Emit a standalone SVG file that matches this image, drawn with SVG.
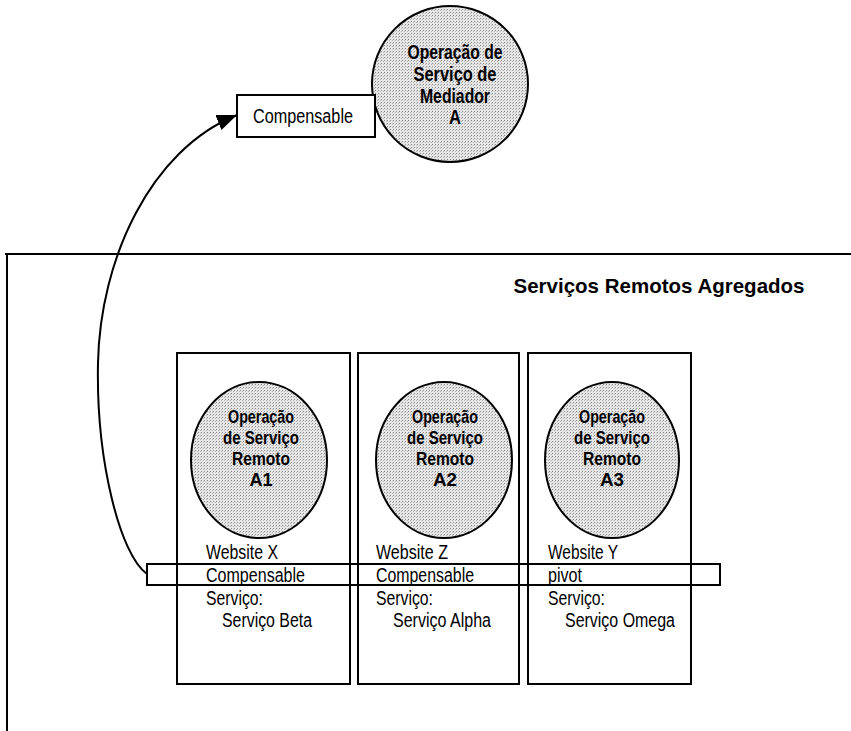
<svg xmlns="http://www.w3.org/2000/svg" width="851" height="731" viewBox="0 0 851 731">
<defs>
<pattern id="stip" width="3" height="3" patternUnits="userSpaceOnUse">
<rect width="3" height="3" fill="#e6e6e6"/>
<rect x="0" y="0" width="1" height="1" fill="#8a8a8a"/>
<rect x="2" y="1" width="1" height="1" fill="#b4b4b4"/>
</pattern>
<marker id="ah" markerUnits="userSpaceOnUse" markerWidth="22" markerHeight="18" refX="20" refY="8" orient="auto">
<path d="M0,0 L20,8 L0,16 Z" fill="#000"/>
</marker>
<style>
.ln{fill:none;stroke:#000;stroke-width:2}
.cir{fill:url(#stip);stroke:#000;stroke-width:2}
.bx{fill:#fff;stroke:#000;stroke-width:2}
.b{font-family:"Liberation Sans",Arial,sans-serif;font-weight:bold;font-size:21px;fill:#000;text-anchor:middle}
.s{font-size:18px}
.r{font-family:"Liberation Sans",Arial,sans-serif;font-size:20px;fill:#000}
</style>
</defs>
<rect width="851" height="731" fill="#fff"/>

<g id="container">
<path class="ln" d="M5,254 H851 M7,253 V731" stroke-width="2.5"/>
<text class="b" x="659" y="293" font-size="22" textLength="291" lengthAdjust="spacingAndGlyphs">Serviços Remotos Agregados</text>
</g>

<g id="mediator">
<circle class="cir" cx="450" cy="84" r="78"/>
<text class="b" x="455" y="59" textLength="95" lengthAdjust="spacingAndGlyphs">Operação de</text>
<text class="b" x="455" y="81" textLength="83" lengthAdjust="spacingAndGlyphs">Serviço de</text>
<text class="b" x="455" y="103" textLength="70" lengthAdjust="spacingAndGlyphs">Mediador</text>
<text class="b" x="455" y="124" textLength="12" lengthAdjust="spacingAndGlyphs">A</text>
</g>

<g id="compensable-top">
<rect class="bx" x="237" y="95" width="138" height="42"/>
<text class="r" x="253" y="123" textLength="100" lengthAdjust="spacingAndGlyphs">Compensable</text>
</g>

<g id="site-x">
<rect class="ln" x="177" y="353" width="173" height="331"/>
<ellipse class="cir" cx="259" cy="460" rx="68" ry="78"/>
<text class="b s" x="261" y="423" textLength="66" lengthAdjust="spacingAndGlyphs">Operação</text>
<text class="b s" x="261" y="444" textLength="76" lengthAdjust="spacingAndGlyphs">de Serviço</text>
<text class="b s" x="261" y="465" textLength="58" lengthAdjust="spacingAndGlyphs">Remoto</text>
<text class="b s" x="261" y="486" textLength="23" lengthAdjust="spacingAndGlyphs">A1</text>
<text class="r" x="206" y="559" textLength="72" lengthAdjust="spacingAndGlyphs">Website X</text>
<text class="r" x="206" y="582" textLength="99" lengthAdjust="spacingAndGlyphs">Compensable</text>
<text class="r" x="206" y="605" textLength="57" lengthAdjust="spacingAndGlyphs">Serviço:</text>
<text class="r" x="222" y="627" textLength="90" lengthAdjust="spacingAndGlyphs">Serviço Beta</text>
</g>

<g id="site-z">
<rect class="ln" x="358" y="353" width="161" height="331"/>
<ellipse class="cir" cx="444" cy="460" rx="68" ry="78"/>
<text class="b s" x="445" y="423" textLength="66" lengthAdjust="spacingAndGlyphs">Operação</text>
<text class="b s" x="445" y="444" textLength="76" lengthAdjust="spacingAndGlyphs">de Serviço</text>
<text class="b s" x="445" y="465" textLength="58" lengthAdjust="spacingAndGlyphs">Remoto</text>
<text class="b s" x="445" y="486" textLength="24" lengthAdjust="spacingAndGlyphs">A2</text>
<text class="r" x="376" y="559" textLength="72" lengthAdjust="spacingAndGlyphs">Website Z</text>
<text class="r" x="376" y="582" textLength="98" lengthAdjust="spacingAndGlyphs">Compensable</text>
<text class="r" x="376" y="605" textLength="57" lengthAdjust="spacingAndGlyphs">Serviço:</text>
<text class="r" x="393" y="627" textLength="98" lengthAdjust="spacingAndGlyphs">Serviço Alpha</text>
</g>

<g id="site-y">
<rect class="ln" x="528" y="353" width="163" height="331"/>
<ellipse class="cir" cx="612" cy="460" rx="67" ry="78"/>
<text class="b s" x="612" y="423" textLength="66" lengthAdjust="spacingAndGlyphs">Operação</text>
<text class="b s" x="612" y="444" textLength="76" lengthAdjust="spacingAndGlyphs">de Serviço</text>
<text class="b s" x="612" y="465" textLength="58" lengthAdjust="spacingAndGlyphs">Remoto</text>
<text class="b s" x="612" y="486" textLength="24" lengthAdjust="spacingAndGlyphs">A3</text>
<text class="r" x="548" y="559" textLength="70" lengthAdjust="spacingAndGlyphs">Website Y</text>
<text class="r" x="548" y="582" textLength="34" lengthAdjust="spacingAndGlyphs">pivot</text>
<text class="r" x="548" y="605" textLength="57" lengthAdjust="spacingAndGlyphs">Serviço:</text>
<text class="r" x="565" y="627" textLength="110" lengthAdjust="spacingAndGlyphs">Serviço Omega</text>
</g>

<g id="compensable-band">
<rect class="ln" x="147" y="564" width="573" height="21"/>
</g>

<g id="connectors">
<path class="ln" d="M147,574 C120,555 96,460 98,363 C100,260 150,150 237,115" marker-end="url(#ah)"/>
</g>
</svg>
